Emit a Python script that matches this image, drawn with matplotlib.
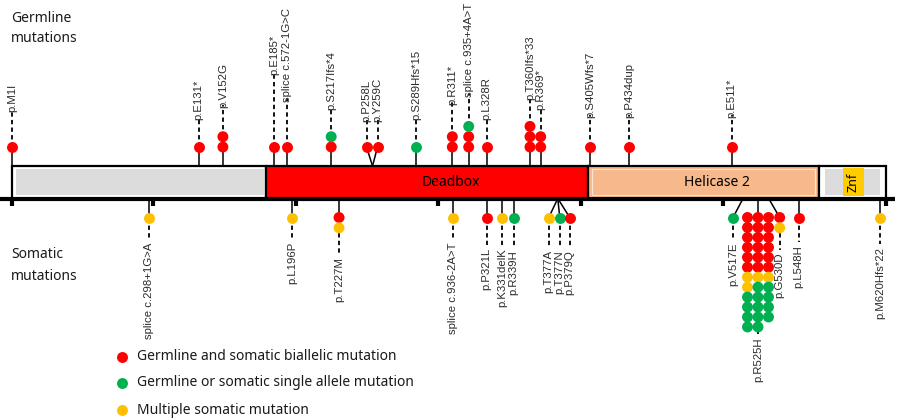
import matplotlib.pyplot as plt
from matplotlib.patches import Rectangle

plt.rcParams['font.family'] = ['Liberation Sans', 'DejaVu Sans']

RED = '#ff0000'
GREEN = '#00b050'
YELLOW = '#ffc000'
DOT = {'r': RED, 'g': GREEN, 'y': YELLOW}

# protein map (amino acid positions as drawn)
domain_start = [1, 179, 405, 567]
domain_end = [179, 405, 567, 614]
domain_names = ['', 'Deadbox', 'Helicase 2', '']
domain_colors = ['white', '#ff0000', '#f7b98b', 'white']
znf_start, znf_end = 584, 599
tick_aa = [1, 100, 200, 300, 400, 500, 614]

# germline mutations, dots listed from the protein outwards
germ_labels = ['p.M1I', 'p.E131*', 'p.V152G', 'p.E185*', 'splice c.572-1G>C',
               'p.S217Ifs*4', 'p.P258L', 'p.Y259C', 'p.S289Hfs*15', 'p.R311*',
               'splice c.935+4A>T', 'p.L328R', 'p.T360Ifs*33', 'p.R369*',
               'p.S405Wfs*7', 'p.P434dup', 'p.E511*']
germ_pos = [1, 132, 149, 185, 194, 225, 254, 254, 284.5, 310, 321.5, 334,
            364.5, 372, 406.5, 434, 506]
germ_dots = ['r', 'r', 'rr', 'r', 'r', 'rg', 'r', 'r', 'g', 'rr', 'rrg', 'r',
             'rrr', 'rr', 'r', 'r', 'r']

# somatic mutations
soma_labels = ['splice c.298+1G>A', 'p.L196P', 'p.T227M', 'splice c.936-2A>T',
               'p.P321L', 'p.K331delK', 'p.R339H', 'p.T377A', 'p.T377N',
               'p.P379Q', 'p.V517E', 'p.R525H', 'p.G530D', 'p.L548H',
               'p.M620Hfs*22']
soma_pos = [97, 197.5, 230.5, 310.5, 334, 345, 353, 384, 384, 384, 514,
            524.5, 532, 553, 610]
soma_dots = ['y', 'y', 'ry', 'y', 'r', 'y', 'g', 'y', 'g', 'r', 'g',
             'r' * 18 + 'y' * 4 + 'g' * 13, 'ry', 'r', 'y']

legend_keys = ['r', 'g', 'y']
legend_labels = ['Germline and somatic biallelic mutation',
                 'Germline or somatic single allele mutation',
                 'Multiple somatic mutation']

# layout (pixels)
PX = 1.425
def px(x):
    return (x - 12) / PX + 1

germ_shift = {6: -6, 7: 5}
soma_shift = {7: -9, 8: 2, 9: 12, 10: -10, 12: 11}
soma_cols = {11: 3}
germ_text_y = [112, 120, 108, 75, 102, 110, 122, 122, 120, 105, 97, 120, 100,
               110, 118, 118, 118]
soma_text_y = [243, 242, 257, 243, 248, 248, 250, 250, 250, 250, 243, 337,
               253, 245, 247]
domain_label_x = [None, 309, 496, None]

BAR_TOP, AXIS_Y = 166, 198.5
STEP = 10.3
DOT_S = 62
LAB = dict(fontsize=8.2, color='#2a2a2a', rotation=90, ha='center')
DASH = dict(color='black', lw=1.3, ls=(0, (2.4, 1.8)), zorder=1)

fig = plt.figure(figsize=(8.99, 4.2), dpi=100)
ax = fig.add_axes([0, 0, 1, 1])
ax.set_xlim(px(0), px(899))
ax.set_ylim(420, 0)
ax.axis('off')

# protein bar
for s, e, name, col, lx in zip(domain_start, domain_end, domain_names,
                               domain_colors, domain_label_x):
    ax.add_patch(Rectangle((s, BAR_TOP), e - s, AXIS_Y - BAR_TOP, facecolor=col,
                           edgecolor='black', lw=1.6, zorder=2))
    if name:
        ax.text(lx, 183, name, ha='center', va='center', fontsize=10,
                family=['Noto Sans', 'DejaVu Sans'], zorder=5)
ax.add_patch(Rectangle((px(16), 169), px(264) - px(16), 26, facecolor='#dcdcdc',
                       lw=0, zorder=3))
ax.add_patch(Rectangle((px(825), 169), px(880) - px(825), 26, facecolor='#dcdcdc',
                       lw=0, zorder=3))
ax.add_patch(Rectangle((px(592), 169), px(815) - px(592), 26, facecolor='none',
                       edgecolor='#fde6d4', lw=0.8, zorder=3))
ax.add_patch(Rectangle((znf_start, 167.5), znf_end - znf_start, 28.5,
                       facecolor='#ffcc00', lw=0, zorder=4))
ax.text((znf_start + znf_end) / 2, 182, 'Znf', rotation=90, ha='center',
        va='center', fontsize=9, family=['Noto Sans', 'DejaVu Sans'], zorder=5)

ax.plot([px(0), px(895)], [AXIS_Y, AXIS_Y], color='black', lw=3,
        solid_capstyle='butt', zorder=3)
ax.vlines(tick_aa, AXIS_Y, 206, color='black', lw=3, zorder=3)

# germline lollipops
for i, (lab, pos, dots) in enumerate(zip(germ_labels, germ_pos, germ_dots)):
    cx = pos + germ_shift.get(i, 0) / PX
    ys = [147 - STEP * k for k in range(len(dots))]
    ax.plot([pos, cx], [BAR_TOP, ys[0]], color='black', lw=1.1, zorder=1)
    ax.scatter([cx] * len(dots), ys, s=DOT_S, c=[DOT[d] for d in dots],
               linewidths=0, zorder=4)
    ax.plot([cx, cx], [ys[-1], germ_text_y[i] - 3], **DASH)
    ax.text(cx, germ_text_y[i], lab, va='bottom', **LAB)

# somatic lollipops
for i, (lab, pos, dots) in enumerate(zip(soma_labels, soma_pos, soma_dots)):
    ncol = soma_cols.get(i, 1)
    cx = pos + soma_shift.get(i, 0) / PX
    xs, ys = [], []
    for k in range(len(dots)):
        r, c = divmod(k, ncol)
        xs.append(cx + (c - (ncol - 1) / 2) * 10.5 / PX)
        ys.append(217.5 + r * (STEP if ncol == 1 else 9.95))
    ax.plot([pos, cx], [AXIS_Y, ys[0]], color='black', lw=1.1, zorder=1)
    ax.scatter(xs, ys, s=DOT_S, c=[DOT[d] for d in dots], linewidths=0,
               zorder=4)
    ax.plot([cx, cx], [ys[0], soma_text_y[i] - 3], **DASH)
    ax.text(cx, soma_text_y[i], lab, va='top', **LAB)

# side titles
side = dict(fontsize=10, family=['Noto Sans', 'DejaVu Sans'], va='baseline',
            color='#1a1a1a')
ax.text(px(11), 22, 'Germline', **side)
ax.text(px(11), 42, 'mutations', **side)
ax.text(px(11), 258, 'Somatic', **side)
ax.text(px(11), 280, 'mutations', **side)

# legend
for k, (key, lab) in enumerate(zip(legend_keys, legend_labels)):
    y = [357, 383, 410][k]
    ax.scatter([px(122)], [y], s=DOT_S, c=DOT[key], linewidths=0)
    ax.text(px(137), y, lab, fontsize=10, va='center', color='#1a1a1a',
            family=['Noto Sans', 'DejaVu Sans'])

fig.savefig('out.png', dpi=100)
